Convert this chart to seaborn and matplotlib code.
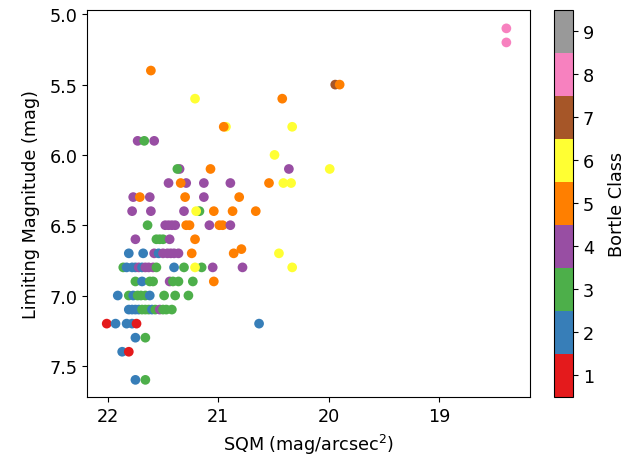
import numpy as np
import pandas as pd
import matplotlib
matplotlib.use("Agg")
import matplotlib.pyplot as plt
import seaborn as sns
from matplotlib.colors import Normalize
from matplotlib.cm import ScalarMappable

# ---- data ----
sqm = [
    18.39, 18.39,
    21.61,
    19.94, 19.90,
    21.21, 20.42,
    20.93, 20.95, 20.33,
    21.73, 21.58, 21.67,
    20.49,
    21.35, 21.37, 21.07, 20.36, 19.99,
    21.45, 21.29, 21.34, 21.13, 20.89, 20.54, 20.41, 20.34,
    21.77, 21.62, 21.71, 21.30, 21.13, 20.81,
    21.78, 21.61, 21.31, 21.17, 21.20, 21.04, 20.87, 20.66,
    21.64, 21.48, 21.45, 21.42, 21.39, 21.29, 21.26, 21.08, 20.99, 20.96, 20.89,
    21.75, 21.56, 21.53, 21.50, 21.44, 21.21,
    21.81, 21.68, 21.58, 21.54, 21.50, 21.46, 21.43, 21.40, 21.36, 21.24, 20.86, 20.79, 20.45,
    21.86, 21.83, 21.78, 21.75, 21.72, 21.69, 21.66, 21.63, 21.59, 21.56, 21.40, 21.31, 21.15, 21.21, 21.05, 20.78, 20.33,
    21.75, 21.69, 21.62, 21.59, 21.44, 21.41, 21.36, 21.23, 21.04,
    21.91, 21.81, 21.77, 21.73, 21.70, 21.66, 21.62, 21.49, 21.39, 21.27,
    21.81, 21.78, 21.75, 21.72, 21.69, 21.66, 21.63, 21.60, 21.57, 21.53, 21.50, 21.47, 21.42,
    22.01, 21.93, 21.83, 21.78, 21.74, 20.63,
    21.75, 21.66,
    21.87, 21.81,
    21.75, 21.66,
]
limiting_mag = [
    5.1, 5.2,
    5.4,
    5.5, 5.5,
    5.6, 5.6,
    5.8, 5.8, 5.8,
    5.9, 5.9, 5.9,
    6.0,
    6.1, 6.1, 6.1, 6.1, 6.1,
    6.2, 6.2, 6.2, 6.2, 6.2, 6.2, 6.2, 6.2,
    6.3, 6.3, 6.3, 6.3, 6.3, 6.3,
    6.4, 6.4, 6.4, 6.4, 6.4, 6.4, 6.4, 6.4,
    6.5, 6.5, 6.5, 6.5, 6.5, 6.5, 6.5, 6.5, 6.5, 6.5, 6.5,
    6.6, 6.6, 6.6, 6.6, 6.6, 6.6,
    6.7, 6.7, 6.7, 6.7, 6.7, 6.7, 6.7, 6.7, 6.7, 6.7, 6.7, 6.67, 6.7,
    6.8, 6.8, 6.8, 6.8, 6.8, 6.8, 6.8, 6.8, 6.8, 6.8, 6.8, 6.8, 6.8, 6.8, 6.8, 6.8, 6.8,
    6.9, 6.9, 6.9, 6.9, 6.9, 6.9, 6.9, 6.9, 6.9,
    7.0, 7.0, 7.0, 7.0, 7.0, 7.0, 7.0, 7.0, 7.0, 7.0,
    7.1, 7.1, 7.1, 7.1, 7.1, 7.1, 7.1, 7.1, 7.1, 7.1, 7.1, 7.1, 7.1,
    7.2, 7.2, 7.2, 7.2, 7.2, 7.2,
    7.3, 7.3,
    7.4, 7.4,
    7.6, 7.6,
]
bortle = [
    8, 8,
    5,
    7, 5,
    6, 5,
    6, 5, 6,
    4, 4, 3,
    6,
    4, 3, 5, 4, 6,
    4, 4, 5, 4, 4, 5, 6, 6,
    4, 4, 5, 5, 4, 5,
    4, 4, 4, 3, 6, 5, 5, 5,
    3, 4, 4, 4, 4, 5, 5, 4, 5, 5, 4,
    4, 3, 3, 3, 4, 5,
    2, 2, 4, 2, 4, 4, 4, 4, 4, 5, 5, 5, 6,
    3, 2, 2, 2, 4, 2, 4, 4, 4, 3, 2, 3, 3, 6, 4, 4, 6,
    3, 2, 3, 3, 4, 3, 3, 3, 5,
    2, 3, 2, 3, 3, 3, 2, 3, 3, 3,
    2, 2, 2, 2, 3, 3, 3, 2, 3, 4, 3, 3, 3,
    1, 2, 2, 2, 1, 2,
    2, 3,
    2, 1,
    2, 3,
]
classes = [1, 2, 3, 4, 5, 6, 7, 8, 9]

df = pd.DataFrame({"sqm": sqm, "lm": limiting_mag, "bortle": bortle})

cmap = plt.get_cmap("Set1")
norm = Normalize(vmin=0.5, vmax=9.5)
palette = {c: cmap(norm(c)) for c in classes}

fig = plt.figure(figsize=(6.39, 4.64), dpi=100)
ax = fig.add_axes([0.1366, 0.1422, 0.6928, 0.8348])
cax = fig.add_axes([0.867, 0.1422, 0.0297, 0.8348])

sns.scatterplot(data=df, x="sqm", y="lm", hue="bortle", palette=palette,
                s=49, linewidth=0, legend=False, ax=ax)

ax.set_xlim(22.186, 18.176)
ax.set_ylim(7.722, 4.967)
ax.set_xticks([22, 21, 20, 19])
ax.set_yticks([5.0, 5.5, 6.0, 6.5, 7.0, 7.5])
fs = 12.7
ax.tick_params(labelsize=fs)
ax.set_xlabel("SQM (mag/arcsec$^2$)", fontsize=fs, labelpad=5)
ax.set_ylabel("Limiting Magnitude (mag)", fontsize=fs, labelpad=7)

sm = ScalarMappable(norm=norm, cmap=cmap)
cb = fig.colorbar(sm, cax=cax, ticks=classes)
cb.ax.tick_params(labelsize=fs)
cb.set_label("Bortle Class", fontsize=fs, labelpad=10)

fig.savefig("out.png", dpi=100)
